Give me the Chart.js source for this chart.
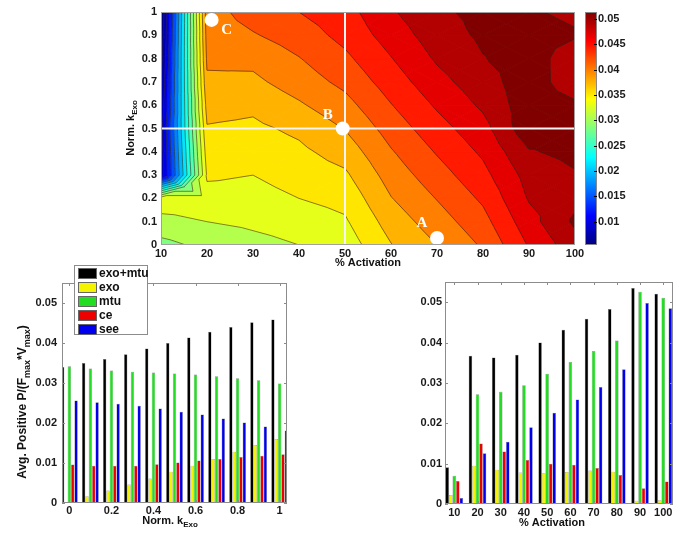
<!DOCTYPE html>
<html>
<head>
<meta charset="utf-8">
<script src="https://cdn.jsdelivr.net/npm/chart.js@4.4.1/dist/chart.umd.min.js"></script>
<style>
body { margin: 0; background: #fff; width: 683px; height: 534px; overflow: hidden; position: relative; }
canvas { position: absolute; }
</style>
</head>
<body>
<canvas id="contour" width="683" height="272" style="left:0;top:0"></canvas>
<canvas id="byK" width="340" height="272" style="left:0;top:262px"></canvas>
<canvas id="byAct" width="343" height="272" style="left:340px;top:262px"></canvas>
<script>
// ---- contour map: avg positive power (exo+mtu) over activation x kExo ----
const activation = [10, 20, 30, 40, 50, 60, 70, 80, 90, 100];
const kExo = [0, 0.1, 0.2, 0.3, 0.4, 0.5, 0.6, 0.7, 0.8, 0.9, 1];
// one row per kExo value, one column per activation value
const powerByK = [
  [0.0300, 0.0313, 0.0322, 0.0330, 0.0340, 0.0375, 0.0399, 0.0425, 0.0470, 0.0505],
  [0.0322, 0.0330, 0.0335, 0.0341, 0.0350, 0.0386, 0.0411, 0.0437, 0.0482, 0.0518],
  [0.0345, 0.0345, 0.0345, 0.0353, 0.0360, 0.0398, 0.0423, 0.0449, 0.0493, 0.0508],
  [0.0085, 0.0356, 0.0353, 0.0362, 0.0372, 0.0409, 0.0435, 0.0461, 0.0500, 0.0512],
  [0.0088, 0.0365, 0.0362, 0.0371, 0.0386, 0.0420, 0.0447, 0.0472, 0.0512, 0.0520],
  [0.0091, 0.0374, 0.0371, 0.0381, 0.0400, 0.0432, 0.0459, 0.0483, 0.0530, 0.0521],
  [0.0082, 0.0385, 0.0381, 0.0396, 0.0414, 0.0444, 0.0471, 0.0495, 0.0528, 0.0518],
  [0.0075, 0.0395, 0.0394, 0.0410, 0.0428, 0.0456, 0.0483, 0.0505, 0.0526, 0.0500],
  [0.0068, 0.0403, 0.0405, 0.0421, 0.0440, 0.0467, 0.0494, 0.0513, 0.0524, 0.0502],
  [0.0061, 0.0408, 0.0420, 0.0433, 0.0452, 0.0478, 0.0503, 0.0518, 0.0522, 0.0516],
  [0.0054, 0.0412, 0.0432, 0.0445, 0.0459, 0.0488, 0.0510, 0.0520, 0.0516, 0.0510]
];
const contourLevels = [0.0054, 0.0077, 0.0100, 0.0123, 0.0146, 0.0169, 0.0192, 0.0215, 0.0238, 0.0261, 0.0284,
                       0.0307, 0.0330, 0.0353, 0.0376, 0.0399, 0.0422, 0.0445, 0.0468, 0.0491, 0.0514];
const colorMin = 0.0054, colorMax = 0.0514;
const colorbarTicks = [0.01, 0.015, 0.02, 0.025, 0.03, 0.035, 0.04, 0.045, 0.05];
const activationTicks = [10, 20, 30, 40, 50, 60, 70, 80, 90, 100];
const kExoTicks = [0, 0.1, 0.2, 0.3, 0.4, 0.5, 0.6, 0.7, 0.8, 0.9, 1];
// marked operating points
const markNames = ['A', 'B', 'C'];
const markAct = [70, 49.5, 21];
const markK = [0.03, 0.5, 0.966];
const crossAct = 50, crossK = 0.5;

// ---- bars, activation fixed at 50% ----
const kSweepTicks = [0, 0.2, 0.4, 0.6, 0.8, 1];
const kExoMtu = [0.0340, 0.0350, 0.0360, 0.0372, 0.0386, 0.0400, 0.0414, 0.0428, 0.0440, 0.0452, 0.0459];
const kExoOnly = [0.0000, 0.0017, 0.0031, 0.0046, 0.0061, 0.0078, 0.0093, 0.0110, 0.0128, 0.0145, 0.0160];
const kMtu = [0.0342, 0.0336, 0.0331, 0.0328, 0.0326, 0.0324, 0.0321, 0.0317, 0.0312, 0.0307, 0.0299];
const kCe = [0.0096, 0.0093, 0.0093, 0.0093, 0.0097, 0.0101, 0.0106, 0.0110, 0.0115, 0.0118, 0.0122];
const kSee = [0.0256, 0.0252, 0.0248, 0.0243, 0.0236, 0.0228, 0.0221, 0.0211, 0.0201, 0.0191, 0.0181];

// ---- bars, kExo fixed at 0.5 ----
const actExoMtu = [0.0091, 0.0367, 0.0363, 0.0370, 0.0400, 0.0432, 0.0459, 0.0483, 0.0535, 0.0521];
const actExo = [0.0022, 0.0095, 0.0085, 0.0078, 0.0076, 0.0079, 0.0083, 0.0080, 0.0008, 0.0009];
const actMtu = [0.0070, 0.0272, 0.0278, 0.0294, 0.0323, 0.0352, 0.0379, 0.0405, 0.0526, 0.0511];
const actCe = [0.0057, 0.0150, 0.0130, 0.0109, 0.0100, 0.0097, 0.0089, 0.0072, 0.0039, 0.0056];
const actSee = [0.0015, 0.0126, 0.0154, 0.0190, 0.0226, 0.0259, 0.0290, 0.0334, 0.0498, 0.0485];

const powerTicks = [0, 0.01, 0.02, 0.03, 0.04, 0.05];
const seriesNames = ['exo+mtu', 'exo', 'mtu', 'ce', 'see'];
const seriesColors = ['#000000', '#f4f400', '#22dd22', '#ee0000', '#0000ee'];

const SANS = '"Liberation Sans", Arial, Helvetica, sans-serif';
Chart.defaults.font.family = SANS;
Chart.defaults.font.size = 11;
Chart.defaults.font.weight = 'bold';
Chart.defaults.color = '#1a1a1a';

function jet(t) {
  const c = v => Math.round(255 * Math.max(0, Math.min(1, v)));
  return 'rgb(' + c(1.5 - Math.abs(4 * t - 3)) + ',' + c(1.5 - Math.abs(4 * t - 2)) + ',' + c(1.5 - Math.abs(4 * t - 1)) + ')';
}

// text with subscripts, centred on (x, y)
function richText(ctx, parts, x, y, size, rotate) {
  ctx.save();
  ctx.translate(x, y);
  if (rotate) ctx.rotate(-Math.PI / 2);
  const big = 'bold ' + size + 'px ' + SANS, small = 'bold ' + Math.round(size * 0.72) + 'px ' + SANS;
  let w = 0;
  parts.forEach(p => { ctx.font = p.sub ? small : big; w += ctx.measureText(p.t).width; });
  let cx = -w / 2;
  ctx.textBaseline = 'middle';
  ctx.fillStyle = '#111';
  parts.forEach(p => {
    ctx.font = p.sub ? small : big;
    ctx.fillText(p.t, cx, p.sub ? size * 0.38 : 0);
    cx += ctx.measureText(p.t).width;
  });
  ctx.restore();
}

// keep the part of a polygon above (or below) a level, values linear along edges
function clipLevel(poly, level, above) {
  const out = [];
  for (let i = 0; i < poly.length; i++) {
    const p = poly[i], q = poly[(i + 1) % poly.length];
    const pin = above ? p.v >= level : p.v <= level;
    const qin = above ? q.v >= level : q.v <= level;
    if (pin) out.push(p);
    if (pin !== qin) {
      const t = (level - p.v) / (q.v - p.v);
      out.push({x: p.x + t * (q.x - p.x), y: p.y + t * (q.y - p.y), v: level});
    }
  }
  return out;
}

function gridTriangles() {
  const tris = [];
  for (let j = 0; j < kExo.length - 1; j++) {
    for (let i = 0; i < activation.length - 1; i++) {
      const p = [[i, j], [i + 1, j], [i + 1, j + 1], [i, j + 1]]
        .map(([a, b]) => ({x: activation[a], y: kExo[b], v: powerByK[b][a]}));
      const c = {x: (p[0].x + p[1].x) / 2, y: (p[0].y + p[3].y) / 2, v: (p[0].v + p[1].v + p[2].v + p[3].v) / 4};
      for (let e = 0; e < 4; e++) tris.push([p[e], p[(e + 1) % 4], c]);
    }
  }
  return tris;
}

const contourPlugin = {
  id: 'contourFill',
  beforeDatasetsDraw(chart) {
    const {ctx, chartArea: ca, scales: {x, y}} = chart;
    const px = q => [x.getPixelForValue(q.x), y.getPixelForValue(q.y)];
    const tris = gridTriangles();
    const n = contourLevels.length;
    ctx.save();
    ctx.beginPath();
    ctx.rect(ca.left, ca.top, ca.width, ca.height);
    ctx.clip();
    tris.forEach(tri => {
      for (let b = 0; b < n; b++) {
        let poly = tri;
        if (b > 0) poly = clipLevel(poly, contourLevels[b], true);
        if (poly.length && b < n - 1) poly = clipLevel(poly, contourLevels[b + 1], false);
        if (poly.length < 3) continue;
        ctx.beginPath();
        poly.forEach((q, m) => { const [X, Y] = px(q); if (m) ctx.lineTo(X, Y); else ctx.moveTo(X, Y); });
        ctx.closePath();
        ctx.fillStyle = ctx.strokeStyle = jet((contourLevels[b] - colorMin) / (colorMax - colorMin));
        ctx.lineWidth = 1;
        ctx.fill();
        ctx.stroke();
      }
    });
    // contour lines
    ctx.beginPath();
    tris.forEach(tri => contourLevels.slice(1).forEach(L => {
      const pts = [];
      for (let e = 0; e < 3; e++) {
        const a = tri[e], b = tri[(e + 1) % 3];
        if ((a.v < L) !== (b.v < L)) {
          const t = (L - a.v) / (b.v - a.v);
          pts.push(px({x: a.x + t * (b.x - a.x), y: a.y + t * (b.y - a.y)}));
        }
      }
      if (pts.length === 2) { ctx.moveTo(pts[0][0], pts[0][1]); ctx.lineTo(pts[1][0], pts[1][1]); }
    }));
    ctx.strokeStyle = 'rgba(45,35,25,0.7)';
    ctx.lineWidth = 0.8;
    ctx.stroke();
    ctx.restore();
  },
  afterDatasetsDraw(chart) {
    const {ctx, chartArea: ca} = chart;
    ctx.save();
    ctx.strokeStyle = '#a0a0a0';
    ctx.lineWidth = 1;
    ctx.strokeRect(ca.left + 0.5, ca.top + 0.5, ca.width - 1, ca.height - 1);
    // point letters
    const shift = {A: [-15, -15], B: [-15, -13], C: [15, 10]};
    ctx.font = 'bold 15px "Liberation Serif", "Times New Roman", serif';
    ctx.fillStyle = '#fff';
    ctx.textAlign = 'center';
    ctx.textBaseline = 'middle';
    chart.getDatasetMeta(0).data.forEach((pt, i) => {
      const s = shift[markNames[i]];
      ctx.fillText(markNames[i], pt.x + s[0], pt.y + s[1]);
    });
    ctx.restore();
  },
  afterDraw(chart) {
    const {ctx, chartArea: ca, scales: {cb}} = chart;
    const top = cb.getPixelForValue(colorMax), bottom = cb.getPixelForValue(colorMin);
    const left = ca.right + 10, w = 12;
    ctx.save();
    const g = ctx.createLinearGradient(0, bottom, 0, top);
    [0, 1 / 8, 3 / 8, 5 / 8, 7 / 8, 1].forEach(t => g.addColorStop(t, jet(t)));
    ctx.fillStyle = g;
    ctx.fillRect(left, top, w, bottom - top);
    ctx.strokeStyle = '#888';
    ctx.strokeRect(left + 0.5, top + 0.5, w - 1, bottom - top - 1);
    ctx.strokeStyle = '#000';
    ctx.beginPath();
    colorbarTicks.forEach(v => {
      const Y = Math.round(cb.getPixelForValue(v)) + 0.5;
      ctx.moveTo(left + w - 3, Y); ctx.lineTo(left + w, Y);
    });
    ctx.stroke();
    ctx.restore();
    richText(ctx, [{t: '% Activation'}], 368, 263, 11, false);
    richText(ctx, [{t: 'Norm. k'}, {t: 'Exo', sub: true}], 131, 128, 11, true);
  }
};

const noGrid = {display: false, drawTicks: false};
// fixed axis box sizes, and no extra label padding spilling into the layout
const fixWidth = w => s => { s.width = w; s.paddingTop = 0; s.paddingBottom = 0; };
const fixHeight = h => s => { s.height = h; s.paddingLeft = 0; s.paddingRight = 0; };

new Chart(document.getElementById('contour'), {
  type: 'scatter',
  data: {
    datasets: [
      {data: markAct.map((a, i) => ({x: a, y: markK[i]})), pointRadius: 7, pointBackgroundColor: '#fff',
       pointBorderWidth: 0, clip: 8},
      {data: [{x: crossAct, y: 0}, {x: crossAct, y: 1}], showLine: true, borderColor: '#f4f4f4',
       borderWidth: 2, pointRadius: 0},
      {data: [{x: 10, y: crossK}, {x: 100, y: crossK}], showLine: true, borderColor: '#f4f4f4',
       borderWidth: 2, pointRadius: 0}
    ]
  },
  options: {
    responsive: false, animation: false, events: [],
    layout: {autoPadding: false, padding: {top: 12, left: 0, right: 0, bottom: 0}},
    plugins: {legend: {display: false}, tooltip: {enabled: false}},
    scales: {
      x: {type: 'linear', min: 10, max: 100, grid: noGrid, border: {display: false},
          afterBuildTicks: s => { s.ticks = activationTicks.map(v => ({value: v})); },
          afterFit: fixHeight(27),
          ticks: {padding: 2, maxRotation: 0, autoSkip: false}},
      y: {type: 'linear', min: 0, max: 1, grid: noGrid, border: {display: false},
          afterBuildTicks: s => { s.ticks = kExoTicks.map(v => ({value: v})); },
          afterFit: fixWidth(161),
          ticks: {padding: 4, autoSkip: false, callback: v => String(+v.toFixed(2))}},
      cb: {type: 'linear', axis: 'y', position: 'right', min: colorMin, max: colorMax,
           grid: noGrid, border: {display: false},
           afterBuildTicks: s => { s.ticks = colorbarTicks.map(v => ({value: v})); },
           afterFit: fixWidth(108),
           ticks: {padding: 23, autoSkip: false, callback: v => String(+v.toFixed(3))}}
    }
  },
  plugins: [contourPlugin]
});

function framePlugin(o) {
  return {
    id: 'frame',
    afterDraw(chart) {
      const {ctx, chartArea: ca, scales: {x, y}} = chart;
      ctx.save();
      ctx.strokeStyle = '#8c8c8c';
      ctx.lineWidth = 1;
      ctx.strokeRect(ca.left + 0.5, ca.top + 0.5, ca.width - 1, ca.height - 1);
      ctx.beginPath();
      y.ticks.forEach(t => {
        const Y = Math.round(y.getPixelForValue(t.value)) + 0.5;
        ctx.moveTo(ca.left, Y); ctx.lineTo(ca.left + 3, Y);
        ctx.moveTo(ca.right, Y); ctx.lineTo(ca.right - 3, Y);
      });
      x.ticks.forEach(t => {
        const X = Math.round(x.getPixelForValue(t.value)) + 0.5;
        ctx.moveTo(X, ca.bottom); ctx.lineTo(X, ca.bottom - 3);
        ctx.moveTo(X, ca.top); ctx.lineTo(X, ca.top + 3);
      });
      ctx.stroke();
      if (o.legend) {
        const lx = 74, ly = 3, lw = 74, lh = 70;
        ctx.fillStyle = '#fff';
        ctx.fillRect(lx, ly, lw, lh);
        ctx.strokeStyle = '#8c8c8c';
        ctx.strokeRect(lx + 0.5, ly + 0.5, lw - 1, lh - 1);
        ctx.font = 'bold 12px ' + SANS;
        ctx.textBaseline = 'middle';
        chart.data.datasets.forEach((ds, i) => {
          const cy = ly + 8 + i * 14;
          ctx.fillStyle = ds.backgroundColor;
          ctx.fillRect(lx + 4, cy - 5, 19, 11);
          ctx.strokeStyle = '#666';
          ctx.strokeRect(lx + 4.5, cy - 4.5, 18, 10);
          ctx.fillStyle = '#111';
          ctx.fillText(ds.label, lx + 25, cy + 0.5);
        });
      }
      ctx.restore();
      o.titles(ctx);
    }
  };
}

function barChart(id, xs, series, o) {
  return new Chart(document.getElementById(id), {
    type: 'bar',
    data: {
      datasets: series.map((vals, s) => ({
        label: seriesNames[s],
        data: xs.map((v, i) => ({x: v, y: vals[i]})),
        backgroundColor: seriesColors[s],
        borderColor: 'rgba(0,0,0,0.5)',
        borderWidth: 0.5,
        barPercentage: 1,
        categoryPercentage: o.catPct
      }))
    },
    options: {
      responsive: false, animation: false, events: [],
      layout: {autoPadding: false, padding: o.padding},
      plugins: {legend: {display: false}, tooltip: {enabled: false}},
      scales: {
        x: {type: 'linear', min: o.xMin, max: o.xMax, offset: false, grid: noGrid, border: {display: false},
            afterBuildTicks: s => { s.ticks = o.xTicks.map(v => ({value: v})); },
            afterFit: fixHeight(o.xHeight),
            ticks: {padding: o.xPad, maxRotation: 0, autoSkip: false, callback: v => String(+v.toFixed(2))}},
        y: {type: 'linear', min: 0, max: 0.055, grid: noGrid, border: {display: false},
            afterBuildTicks: s => { s.ticks = powerTicks.map(v => ({value: v})); },
            afterFit: fixWidth(o.yWidth),
            ticks: {padding: o.yPad, autoSkip: false, callback: v => String(+v.toFixed(3))}}
      }
    },
    plugins: [framePlugin(o)]
  });
}

barChart('byK', kExo, [kExoMtu, kExoOnly, kMtu, kCe, kSee], {
  catPct: 0.8, xMin: -0.035, xMax: 1.035, xTicks: kSweepTicks,
  padding: {top: 21, left: 0, right: 53, bottom: 0}, xHeight: 31, yWidth: 62, xPad: 1, yPad: 5,
  legend: true,
  titles: ctx => {
    richText(ctx, [{t: 'Norm. k'}, {t: 'Exo', sub: true}], 170, 259, 11, false);
    richText(ctx, [{t: 'Avg. Positive P/(F'}, {t: 'max', sub: true}, {t: '*V'}, {t: 'max', sub: true}, {t: ')'}],
             23, 140, 12, true);
  }
});

barChart('byAct', activation, [actExoMtu, actExo, actMtu, actCe, actSee], {
  catPct: 0.76, xMin: 6, xMax: 104.2, xTicks: activationTicks,
  padding: {top: 20, left: 0, right: 10, bottom: 0}, xHeight: 30, yWidth: 105, xPad: 2, yPad: 3,
  legend: false,
  titles: ctx => {
    richText(ctx, [{t: '% Activation'}], 212, 261, 11, false);
  }
});
</script>
</body>
</html>
